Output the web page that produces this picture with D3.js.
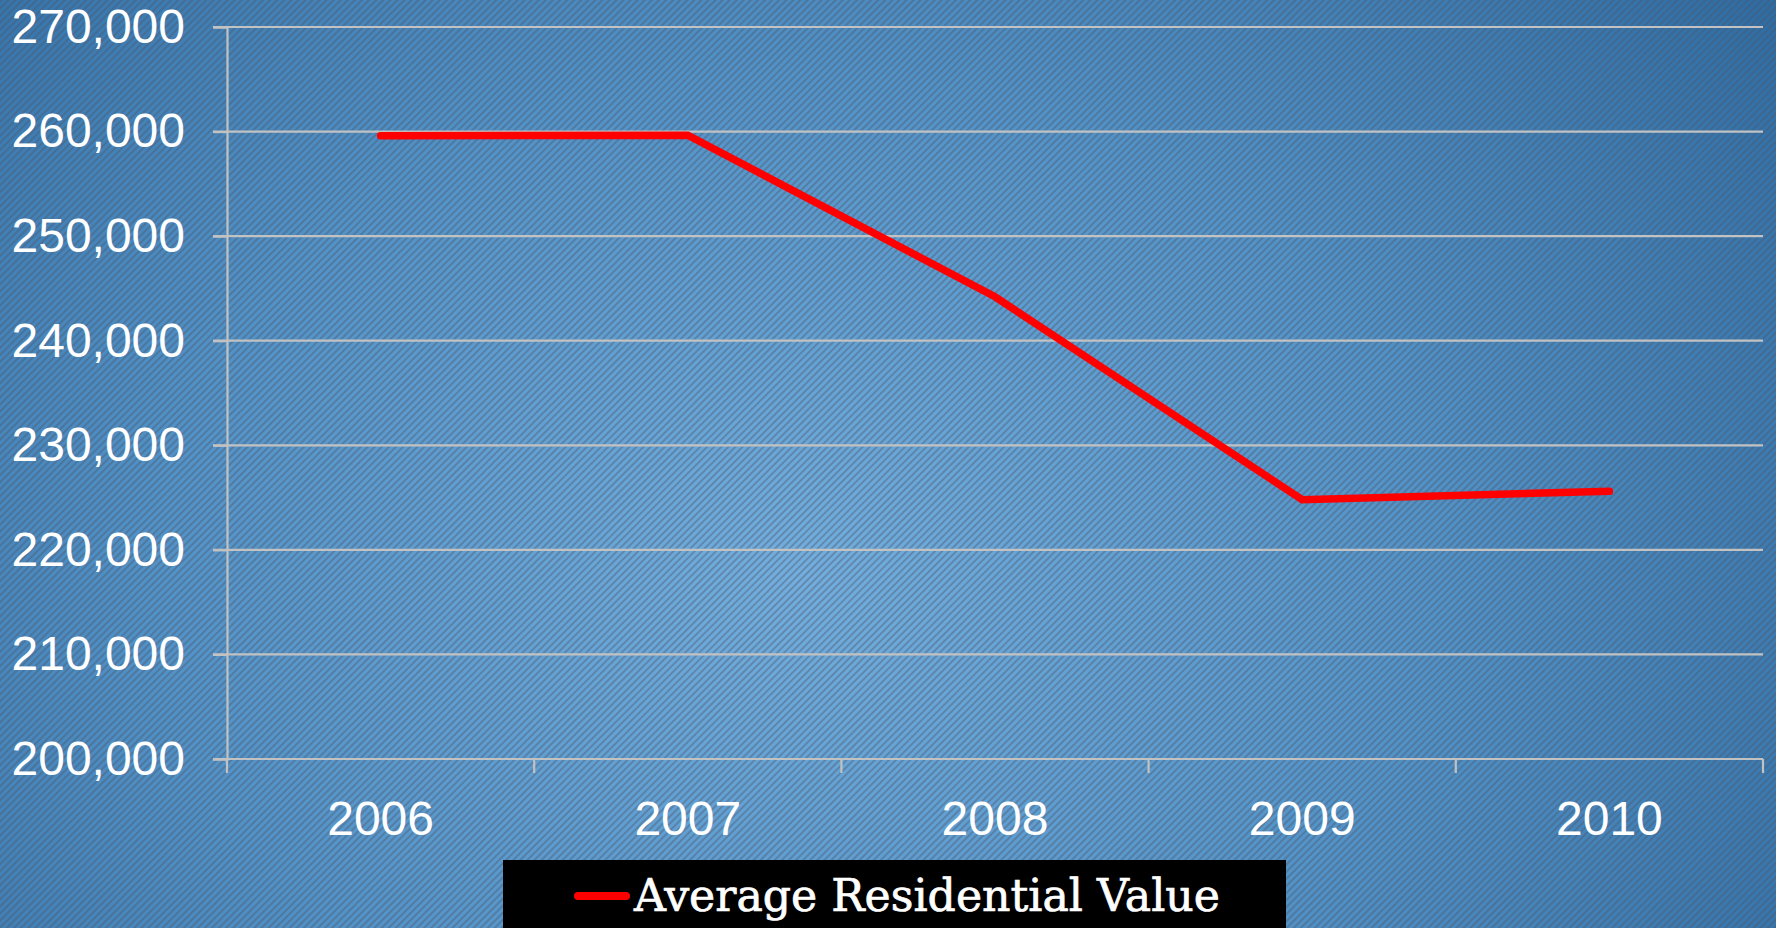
<!DOCTYPE html>
<html>
<head>
<meta charset="utf-8">
<script src="https://cdn.jsdelivr.net/npm/d3@7"></script>
<style>
  html, body { margin: 0; padding: 0; overflow: hidden; }
  svg { display: block; }
</style>
</head>
<body>
<div id="chart"></div>
<script>
var years = ['2006', '2007', '2008', '2009', '2010'];
var avgValue = [259600, 259650, 244200, 224800, 225600];
var yTicks = [200000, 210000, 220000, 230000, 240000, 250000, 260000, 270000];
var seriesName = 'Average Residential Value';

const width = 1776;
const height = 928;
const plotLeft = 227, plotRight = 1763, plotTop = 27, plotBottom = 759;

const svg = d3.select('#chart')
    .append('svg')
    .attr('width', width)
    .attr('height', height);

// background: blue glow + diagonal stripes
var defs = svg.append('defs');
var grad = defs.append('radialGradient')
    .attr('id', 'bg')
    .attr('cx', '0.45').attr('cy', '0.62').attr('r', '0.72')
    .attr('gradientTransform', 'translate(0.45,0.62) scale(1,1.5) translate(-0.45,-0.62)');
grad.append('stop').attr('offset', '0').attr('stop-color', '#72afe0');
grad.append('stop').attr('offset', '0.5').attr('stop-color', '#5192c8');
grad.append('stop').attr('offset', '1').attr('stop-color', '#2a68a0');

var pat = defs.append('pattern')
    .attr('id', 'stripes')
    .attr('width', 5).attr('height', 5)
    .attr('patternUnits', 'userSpaceOnUse')
    .attr('patternTransform', 'rotate(45)');
pat.append('rect')
    .attr('width', 2).attr('height', 5)
    .attr('fill', 'rgba(80,85,100,0.4)');

svg.append('rect').attr('width', width).attr('height', height).attr('fill', 'url(#bg)');
svg.append('rect').attr('width', width).attr('height', height).attr('fill', 'url(#stripes)');

var x = d3.scaleBand()
    .domain(years)
    .range([plotLeft, plotRight]);

var y = d3.scaleLinear()
    .domain([200000, 270000])
    .range([plotBottom, plotTop]);

var gridColor = '#c2c2c2';

// gridlines
svg.append('g')
    .selectAll('line')
    .data(yTicks)
    .enter()
    .append('line')
    .attr('x1', plotLeft - 14)
    .attr('x2', plotRight)
    .attr('y1', function(d) { return y(d); })
    .attr('y2', function(d) { return y(d); })
    .attr('stroke', gridColor)
    .attr('stroke-width', 2.2);

// y axis
var yAxis = svg.append('g')
    .attr('transform', 'translate(' + plotLeft + ',0)')
    .call(d3.axisLeft(y).tickValues(yTicks).tickSize(14).tickPadding(28).tickFormat(d3.format(',')));
yAxis.select('.domain').attr('stroke', gridColor).attr('stroke-width', 2.2);
yAxis.selectAll('.tick line').attr('stroke', gridColor).attr('stroke-width', 2.2);
yAxis.selectAll('text')
    .attr('fill', '#ffffff')
    .style('font-family', '"Liberation Sans", Arial, sans-serif')
    .style('font-size', '48px');

// x axis with ticks between categories
var xAxis = svg.append('g')
    .attr('transform', 'translate(0,' + plotBottom + ')');
xAxis.append('line')
    .attr('x1', plotLeft).attr('x2', plotRight)
    .attr('stroke', gridColor).attr('stroke-width', 2.2);
var edges = years.map(function(d) { return x(d); }).concat([x(years[years.length - 1]) + x.bandwidth()]);
xAxis.selectAll('.xt')
    .data(edges)
    .enter()
    .append('line')
    .attr('x1', function(d) { return d; })
    .attr('x2', function(d) { return d; })
    .attr('y1', 0).attr('y2', 14)
    .attr('stroke', gridColor).attr('stroke-width', 2.2);
xAxis.selectAll('text')
    .data(years)
    .enter()
    .append('text')
    .attr('x', function(d) { return x(d) + x.bandwidth() / 2; })
    .attr('y', 76)
    .attr('text-anchor', 'middle')
    .attr('fill', '#ffffff')
    .style('font-family', '"Liberation Sans", Arial, sans-serif')
    .style('font-size', '48px')
    .text(function(d) { return d; });

// the line
var line = d3.line()
    .x(function(d, i) { return x(years[i]) + x.bandwidth() / 2; })
    .y(function(d) { return y(d); });

svg.append('path')
    .datum(avgValue)
    .attr('d', line)
    .attr('fill', 'none')
    .attr('stroke', '#ff0000')
    .attr('stroke-width', 7.5)
    .attr('stroke-linecap', 'round')
    .attr('stroke-linejoin', 'miter');

// legend
var legend = svg.append('g');
legend.append('rect')
    .attr('x', 503).attr('y', 860)
    .attr('width', 783).attr('height', 80)
    .attr('fill', '#000000');
legend.append('line')
    .attr('x1', 578).attr('x2', 626)
    .attr('y1', 896).attr('y2', 896)
    .attr('stroke', '#ff0000')
    .attr('stroke-width', 8)
    .attr('stroke-linecap', 'round');
legend.append('text')
    .attr('x', 634).attr('y', 911)
    .attr('textLength', 586)
    .attr('lengthAdjust', 'spacingAndGlyphs')
    .attr('fill', '#ffffff')
    .attr('stroke', '#ffffff')
    .attr('stroke-width', 0.7)
    .style('font-family', '"DejaVu Serif", serif')
    .style('font-size', '44px')
    .text(seriesName);
</script>
</body>
</html>
